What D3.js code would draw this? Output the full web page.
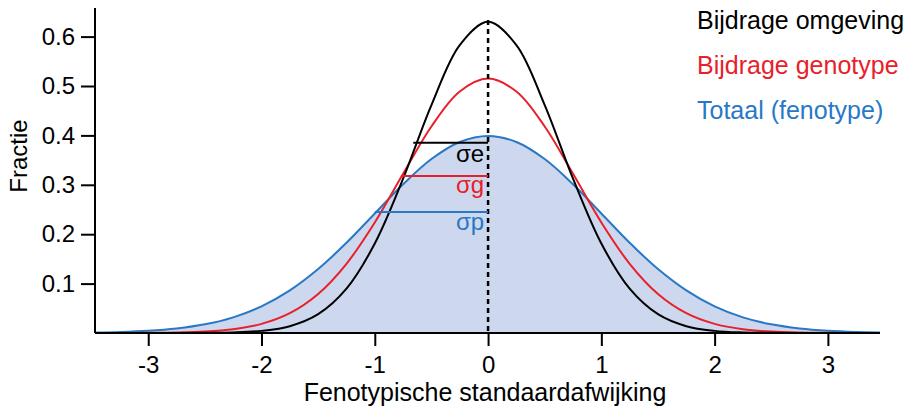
<!DOCTYPE html>
<html><head><meta charset="utf-8">
<script src="https://cdn.jsdelivr.net/npm/d3@7"></script>
<style>body{margin:0;background:#fff}svg{display:block;font-family:"Liberation Sans",Arial,sans-serif}</style>
</head><body>
<svg id="c" width="905" height="410"></svg>
<script>
const xs = [-3.5,-3.25,-3,-2.75,-2.5,-2.25,-2,-1.75,-1.5,-1.25,-1,-0.75,-0.5,-0.25,0,0.25,0.5,0.75,1,1.25,1.5,1.75,2,2.25,2.5,2.75,3,3.25,3.5];
const halfTotal = [0.0009,0.0020,0.0044,0.0091,0.0175,0.0317,0.0540,0.0863,0.1295,0.1826,0.2420,0.3011,0.3521,0.3867,0.3989];
const halfGeno  = [0.0000,0.0001,0.0003,0.0009,0.0028,0.0076,0.0184,0.0401,0.0790,0.1401,0.2238,0.3223,0.4181,0.4888,0.5150];
const halfEnv   = [0.0000,0.0000,0.0000,0.0001,0.0003,0.0011,0.0043,0.0138,0.0381,0.0898,0.1811,0.3124,0.4613,0.5828,0.6300];
const totaal   = halfTotal.concat(halfTotal.slice(0,-1).reverse());
const genotype = halfGeno.concat(halfGeno.slice(0,-1).reverse());
const omgeving = halfEnv.concat(halfEnv.slice(0,-1).reverse());
const seriesNames = ["Bijdrage omgeving","Bijdrage genotype","Totaal (fenotype)"];
const seriesColors = ["#000000","#e8202a","#2878c6"];
const sigmaLabels = ["σe","σg","σp"];
const sigmaX = [-0.66,-0.76,-1.0];
const sigmaY = [0.385,0.318,0.245];
const xTicks = [-3,-2,-1,0,1,2,3];
const yTicks = [0.1,0.2,0.3,0.4,0.5,0.6];

const svg = d3.select("#c");
const x = d3.scaleLinear().domain([-3.47,3.46]).range([95,880]);
const y = d3.scaleLinear().domain([0,0.6]).range([333,36.6]);

svg.append("clipPath").attr("id","cl").append("rect")
  .attr("x",95).attr("y",0).attr("width",785).attr("height",333);

const pts = arr => xs.map((v,i)=>[v,arr[i]]);
const line = d3.line().x(d=>x(d[0])).y(d=>y(d[1])).curve(d3.curveCatmullRom.alpha(0.5));
const area = d3.area().x(d=>x(d[0])).y0(y(0)).y1(d=>y(d[1])).curve(d3.curveCatmullRom.alpha(0.5));

const g = svg.append("g").attr("clip-path","url(#cl)");
g.append("path").attr("d",area(pts(totaal))).attr("fill","#cdd8ee");

// dashed zero line
svg.append("line").attr("x1",x(0)).attr("x2",x(0)).attr("y1",20).attr("y2",y(0))
  .attr("stroke","#000").attr("stroke-width",2.5).attr("stroke-dasharray","5,4");

// sigma lines
[omgeving,genotype,totaal].forEach((s,i)=>{
  svg.append("line").attr("x1",x(sigmaX[i])).attr("x2",x(0)).attr("y1",y(sigmaY[i])).attr("y2",y(sigmaY[i]))
    .attr("stroke",seriesColors[i]).attr("stroke-width",2);
});

g.append("path").attr("d",line(pts(totaal))).attr("fill","none").attr("stroke",seriesColors[2]).attr("stroke-width",2);
g.append("path").attr("d",line(pts(genotype))).attr("fill","none").attr("stroke",seriesColors[1]).attr("stroke-width",2);
g.append("path").attr("d",line(pts(omgeving))).attr("fill","none").attr("stroke",seriesColors[0]).attr("stroke-width",2);

// sigma labels
const labY = [162, 193, 230];
sigmaLabels.forEach((t,i)=>{
  svg.append("text").attr("x",x(0)-4).attr("y",labY[i]).attr("text-anchor","end")
    .attr("font-size",24).attr("fill",seriesColors[i]).text(t);
});

// axes
const xa = svg.append("g").attr("transform","translate(0,333)")
  .call(d3.axisBottom(x).tickValues(xTicks).tickSize(13).tickSizeOuter(0).tickPadding(10).tickFormat(d=>String(d)));
const ya = svg.append("g").attr("transform","translate(95,0)")
  .call(d3.axisLeft(y).tickValues(yTicks).tickSize(14).tickSizeOuter(0).tickPadding(6).tickFormat(d3.format(".1f")));
[xa,ya].forEach(a=>{
  a.attr("font-size",24).attr("font-family","Liberation Sans, Arial, sans-serif");
  a.select(".domain").attr("stroke-width",2);
  a.selectAll(".tick line").attr("stroke-width",2);
  a.selectAll("text").attr("font-size",24).attr("fill","#000");
});
ya.select(".domain").attr("d","M0,8V333");
xa.select(".domain").attr("d","M95,0H880");

svg.append("text").attr("x",485).attr("y",401).attr("text-anchor","middle").attr("font-size",25).text("Fenotypische standaardafwijking");
svg.append("text").attr("transform","translate(27,156) rotate(-90)").attr("text-anchor","middle").attr("font-size",24).text("Fractie");

seriesNames.forEach((n,i)=>{
  svg.append("text").attr("x",697).attr("y",29+i*45).attr("font-size",25).attr("fill",seriesColors[i]).text(n);
});
</script>
</body></html>
